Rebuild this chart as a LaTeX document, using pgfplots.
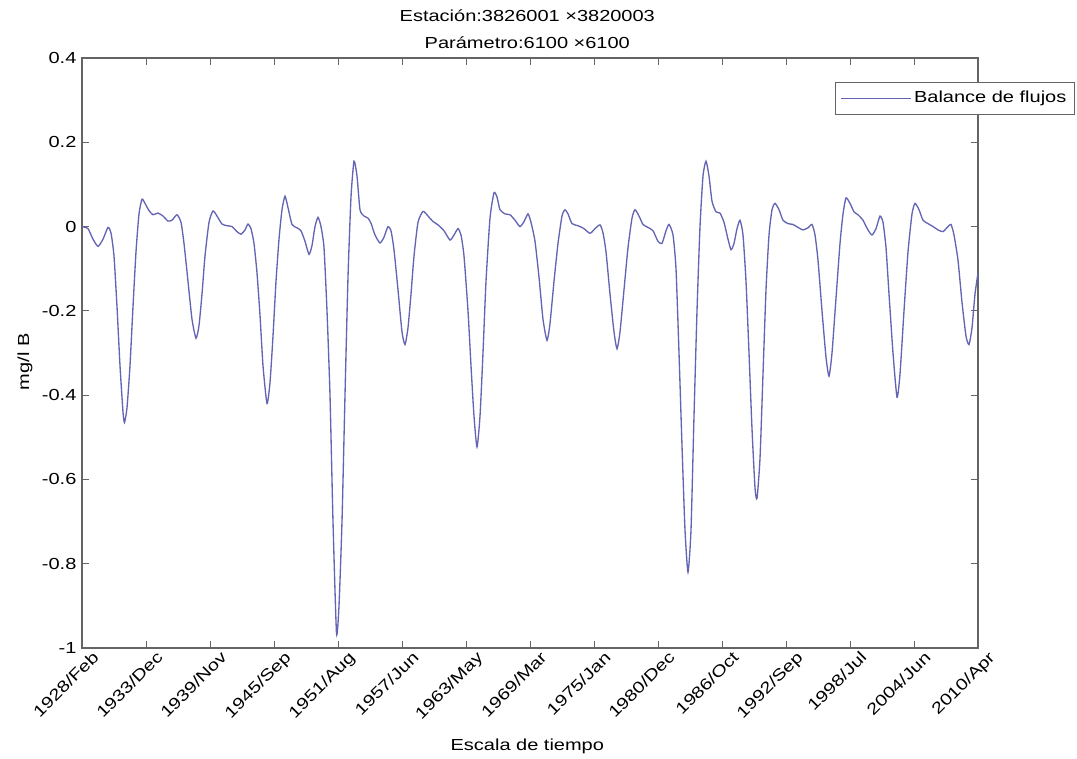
\documentclass[border=0pt]{standalone}
\usepackage{pgfplots}
\pgfplotsset{compat=1.18}
\usepackage{fontspec}
\setmainfont[FakeStretch=1.25]{Liberation Sans}
\definecolor{serie}{RGB}{100,100,180}
\definecolor{axgray}{RGB}{100,100,100}
\begin{document}
\fontsize{12}{14}\selectfont
\begin{tikzpicture}
\useasboundingbox (-61.5pt,-83.25pt) rectangle (746.25pt,486pt);
\begin{axis}[
  scale only axis, width=672pt, height=442.5pt,
  at={(0pt,0pt)}, anchor=south west,
  xmin=82, xmax=978, ymin=-1, ymax=0.4,
  xtick={82,146,210,274,338,402,466,530,594,658,722,786,850,914,978},
  xticklabels={1928/Feb,1933/Dec,1939/Nov,1945/Sep,1951/Aug,1957/Jun,1963/May,1969/Mar,1975/Jan,1980/Dec,1986/Oct,1992/Sep,1998/Jul,2004/Jun,2010/Apr},
  ytick={-1,-0.8,-0.6,-0.4,-0.2,0,0.2,0.4},
  yticklabels={-1,-0.8,-0.6,-0.4,-0.2,0,0.2,0.4},
  /pgf/number format/assume math mode=true,
  tick align=inside, major tick length=5pt,
  axis line style={axgray, line width=0.8pt},
  every tick/.style={axgray, line width=0.6pt},
  xticklabel style={rotate=45, anchor=north east, font=\fontsize{12}{14}\selectfont, xshift=8pt, yshift=-2pt},
  yticklabel style={font=\fontsize{12}{14}\selectfont},
  title={Estación:3826001 ×3820003\\ Parámetro:6100 ×6100},
  title style={at={(rel axis cs:0.497,1)}, anchor=south, align=center, font=\fontsize{12}{20}\selectfont, yshift=-3pt},
  xlabel={Escala de tiempo},
  xlabel style={at={(rel axis cs:0.497,0)}, anchor=center, yshift=-73.5pt, font=\fontsize{12}{14}\selectfont},
  ylabel={mg/l B},
  ylabel style={at={(rel axis cs:-0.0636,0.485)}, anchor=center, font=\fontsize{12}{14}\selectfont},
  legend style={at={(rel axis cs:1.108,0.96)}, anchor=north east, draw=axgray, line width=0.6pt, font=\fontsize{12}{14}\selectfont, inner ysep=5pt, inner xsep=4pt},
  legend cell align=left,
  legend image code/.code={\draw[#1] (-10pt,0pt) -- (42pt,0pt);},
]
\addplot[serie, line width=1pt, smooth, tension=0.35] table[x=t, y=v] {
t v
82 0.000
88 -0.005
93 -0.030
98 -0.047
103 -0.030
108 -0.002
111 -0.015
114 -0.070
117 -0.190
120 -0.330
123 -0.440
124.5 -0.465
127 -0.430
130 -0.330
133 -0.190
136 -0.060
139 0.030
142 0.065
145 0.055
149 0.038
153 0.028
158 0.032
163 0.025
168 0.013
172 0.015
177 0.028
181 0.010
184 -0.040
188 -0.130
192 -0.220
196 -0.265
199 -0.235
202 -0.160
205 -0.070
209 0.010
213 0.037
217 0.025
222 0.006
227 0.002
232 0.000
237 -0.012
241 -0.018
245 -0.008
248 0.006
251 -0.005
254 -0.040
257 -0.110
260 -0.210
263 -0.330
267 -0.420
270 -0.370
273 -0.260
276 -0.130
279 -0.030
282 0.040
285 0.072
288 0.045
292 0.005
297 -0.003
301 -0.010
305 -0.035
309 -0.066
312 -0.045
315 0.000
318 0.022
321 0.000
324 -0.050
327 -0.200
330 -0.400
333 -0.700
336.5 -0.965
339 -0.900
342 -0.700
345 -0.400
348 -0.120
351 0.070
354 0.155
357 0.120
360 0.040
364 0.025
368 0.020
371 0.008
375 -0.020
380 -0.039
384 -0.025
388 0.000
391 -0.010
394 -0.055
398 -0.150
402 -0.250
405 -0.280
408 -0.240
411 -0.160
414 -0.070
418 0.010
423 0.036
428 0.025
433 0.012
438 0.004
444 -0.010
450 -0.032
454 -0.020
458 -0.005
461 -0.020
464 -0.070
468 -0.200
471 -0.330
474 -0.450
477 -0.523
480 -0.450
483 -0.300
486 -0.130
490 0.020
494 0.080
497 0.070
500 0.040
505 0.030
510 0.028
515 0.015
520 0.000
524 0.012
528 0.030
531 0.010
535 -0.035
539 -0.120
543 -0.220
547 -0.270
550 -0.230
554 -0.130
558 -0.040
562 0.025
565 0.040
568 0.030
572 0.007
578 0.002
584 -0.005
590 -0.016
595 -0.005
600 0.004
603 -0.015
606 -0.060
610 -0.160
614 -0.250
617 -0.290
620 -0.250
624 -0.150
628 -0.050
632 0.020
635 0.040
639 0.025
643 0.005
648 -0.002
653 -0.010
658 -0.035
662 -0.040
666 -0.010
669 0.005
673 -0.020
676 -0.100
679 -0.300
682 -0.520
685 -0.720
688 -0.820
691 -0.720
694 -0.450
697 -0.200
700 0.000
703 0.120
706 0.155
709 0.120
712 0.060
716 0.035
720 0.032
724 0.010
728 -0.030
731 -0.055
734 -0.040
737 -0.005
740 0.015
743 -0.020
746 -0.130
749 -0.300
752 -0.480
755 -0.620
757 -0.645
760 -0.550
763 -0.350
766 -0.150
769 -0.020
772 0.040
775 0.055
779 0.040
783 0.015
788 0.007
793 0.005
798 -0.002
803 -0.008
808 -0.003
812 0.005
815 -0.020
818 -0.080
822 -0.200
826 -0.310
829 -0.355
832 -0.300
836 -0.170
840 -0.040
843 0.030
846 0.068
850 0.055
854 0.035
858 0.028
863 0.015
868 -0.008
872 -0.020
876 -0.005
880 0.025
883 0.010
886 -0.050
889 -0.160
893 -0.300
897 -0.405
900 -0.350
904 -0.200
908 -0.060
912 0.030
915 0.055
919 0.040
923 0.015
928 0.007
933 0.000
938 -0.008
943 -0.012
948 0.000
951 0.005
954 -0.020
958 -0.080
962 -0.180
966 -0.260
969 -0.280
972 -0.240
975 -0.160
978 -0.110
};
\addlegendentry{Balance de flujos}
\end{axis}
\end{tikzpicture}
\end{document}
